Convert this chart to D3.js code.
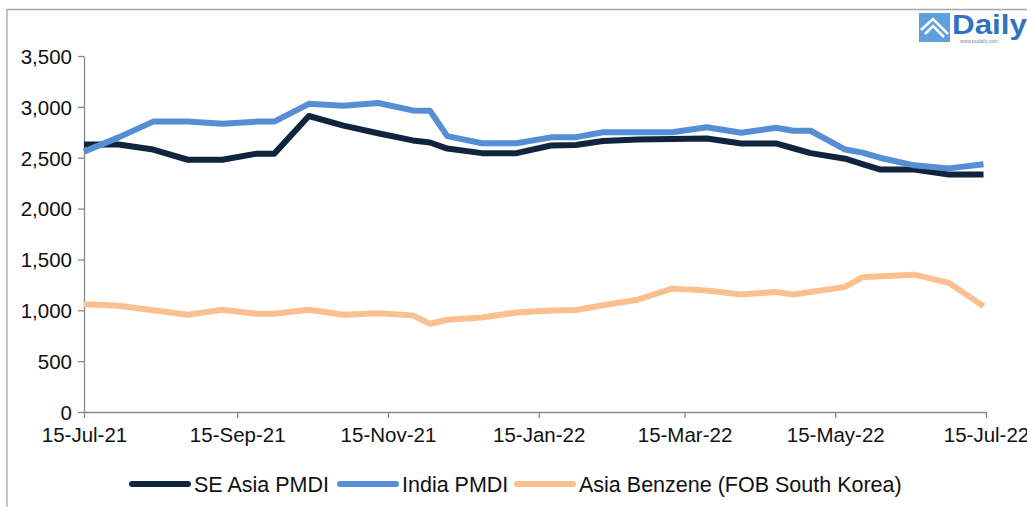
<!DOCTYPE html>
<meta charset="utf-8">
<title>PMDI vs Benzene</title>
<style>
  body { margin: 0; background: #fff; }
  svg { font-family: "Liberation Sans", Arial, sans-serif; }
  .axis path, .axis line { stroke: #888; stroke-width: 1.3px; }
  .axis text { font-size: 20.5px; fill: #111; }
  .line { fill: none; stroke-width: 6px; stroke-linejoin: round; }
  .legend text { font-size: 21.5px; fill: #111; }
</style>
<body>
<script src="https://d3js.org/d3.v7.min.js"></script>
<script>

// dates of the points
var dates = ["2021-07-15","2021-07-29","2021-08-12","2021-08-26","2021-09-09","2021-09-23",
             "2021-09-30","2021-10-14","2021-10-28","2021-11-11","2021-11-25","2021-12-02",
             "2021-12-09","2021-12-23","2022-01-06","2022-01-20","2022-01-30","2022-02-10",
             "2022-02-24","2022-03-10","2022-03-24","2022-04-07","2022-04-21","2022-04-28",
             "2022-05-05","2022-05-19","2022-05-26","2022-06-02","2022-06-16","2022-06-30",
             "2022-07-14"];

var seAsiaPmdi = [2630,2630,2580,2480,2480,2540,2540,2910,2815,2740,2670,2650,
                  2590,2545,2545,2620,2625,2665,2680,2685,2688,2640,2640,2593,
                  2545,2490,2438,2385,2385,2335,2335];

var indiaPmdi  = [2560,2700,2855,2855,2835,2855,2855,3030,3012,3038,2965,2962,
                  2712,2642,2642,2700,2702,2750,2750,2750,2800,2745,2795,2765,
                  2765,2580,2550,2500,2425,2395,2435];

var asiaBenzene = [1060,1045,1000,956,1006,965,965,1006,956,972,950,868,
                   907,930,979,999,1003,1050,1104,1213,1195,1155,1180,1155,
                   1180,1230,1325,1335,1350,1270,1040];

var seriesNames = ["SE Asia PMDI", "India PMDI", "Asia Benzene (FOB South Korea)"];
var seriesColors = ["#10243e", "#558ed5", "#fac090"];
var seriesValues = [seAsiaPmdi, indiaPmdi, asiaBenzene];

var xTicks = ["2021-07-15","2021-09-15","2021-11-15","2022-01-15","2022-03-15","2022-05-15","2022-07-15"];
var yTicks = [0,500,1000,1500,2000,2500,3000,3500];

var W = 1027, H = 507;
var parse = d3.timeParse("%Y-%m-%d");

var svg = d3.select("body").append("svg")
    .attr("width", W).attr("height", H);

// outer frame (only top and left edges are visible)
svg.append("path")
    .attr("d", "M7,507V9.5H1027")
    .attr("fill", "none")
    .attr("stroke", "#a6a6a6")
    .attr("stroke-width", 1.3);

// scales
var x = d3.scaleTime()
    .domain([parse("2021-07-15"), parse("2022-07-15")])
    .range([84, 986]);
var y = d3.scaleLinear()
    .domain([0, 3500])
    .range([412, 56]);

// axes
var yAxis = svg.append("g")
    .attr("class", "axis")
    .attr("transform", "translate(84,0)")
    .call(d3.axisLeft(y).tickValues(yTicks).tickFormat(d3.format(",")).tickSize(6).tickSizeOuter(0).tickPadding(6));
yAxis.selectAll("text").attr("dy", "0.36em");

var xAxis = svg.append("g")
    .attr("class", "axis")
    .attr("transform", "translate(0,412)")
    .call(d3.axisBottom(x).tickValues(xTicks.map(parse)).tickFormat(d3.timeFormat("%d-%b-%y")).tickSize(6).tickSizeOuter(0).tickPadding(9));

// lines
var line = d3.line()
    .x(function(d) { return x(d.date); })
    .y(function(d) { return y(d.value); });

seriesValues.forEach(function(vals, i) {
  var data = dates.map(function(d, j) { return {date: parse(d), value: vals[j]}; });
  svg.append("path")
      .datum(data)
      .attr("class", "line")
      .attr("stroke", seriesColors[i])
      .attr("d", line);
});

// legend
var legendX = [132, 340, 517];
var legend = svg.append("g").attr("class", "legend");
seriesNames.forEach(function(name, i) {
  legend.append("line")
      .attr("x1", legendX[i]).attr("x2", legendX[i] + 56)
      .attr("y1", 484).attr("y2", 484)
      .attr("stroke", seriesColors[i])
      .attr("stroke-width", 6)
      .attr("stroke-linecap", "round");
  legend.append("text")
      .attr("x", legendX[i] + 62)
      .attr("y", 491.5)
      .text(name);
});

// logo top right
var logo = svg.append("g");
logo.append("rect")
    .attr("x", 919).attr("y", 13).attr("width", 31).attr("height", 29)
    .attr("fill", "#5f9fdc");
logo.append("path")
    .attr("d", "M921,30 L933,19 L948,34 M925,34 L933,26 L944,37")
    .attr("fill", "none").attr("stroke", "#fff").attr("stroke-width", 2.5);
logo.append("text")
    .attr("x", 952).attr("y", 34)
    .attr("font-size", 27).attr("font-weight", "bold")
    .attr("fill", "#2f73c0")
    .attr("textLength", 75).attr("lengthAdjust", "spacingAndGlyphs")
    .text("Daily");
logo.append("text")
    .attr("x", 960).attr("y", 43)
    .attr("font-size", 5).attr("fill", "#7a8aa0")
    .text("www.pudaily.com");

</script>
</body>
